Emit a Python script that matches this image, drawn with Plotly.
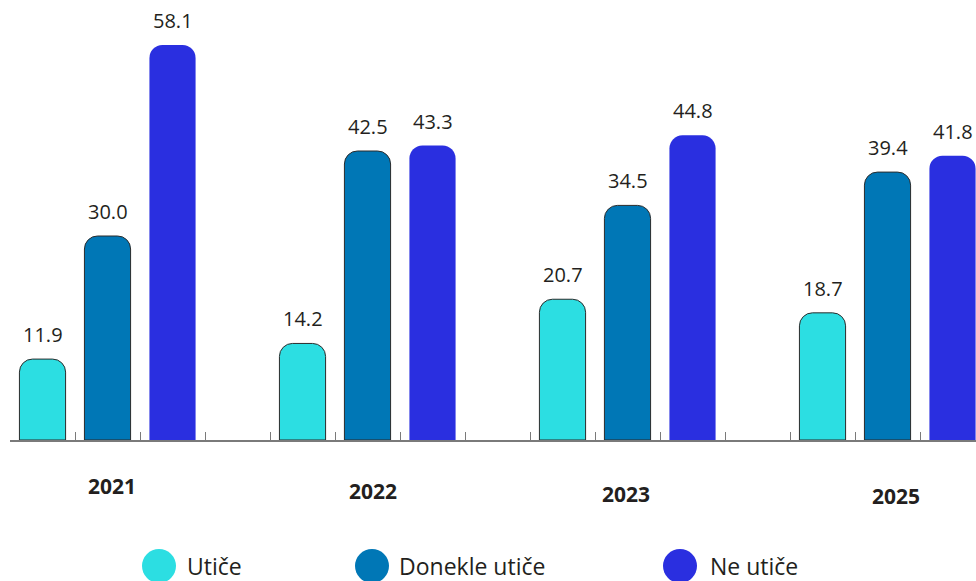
import plotly.graph_objects as go

YEARS = ["2021", "2022", "2023", "2025"]
SERIES = ["Utiče", "Donekle utiče", "Ne utiče"]
UTICE = [11.9, 14.2, 20.7, 18.7]
DONEKLE = [30.0, 42.5, 34.5, 39.4]
NE_UTICE = [58.1, 43.3, 44.8, 41.8]

COLORS = ["#2CDEE2", "#0077B6", "#2A2FE0"]
OUTLINES = [1, 1, 0]
FONT = "Open Sans"
TEXT_COLOR = "#231F20"

W, H = 976, 581
PLOT_L, PLOT_R, PLOT_T, PLOT_B = 10, 976, 5, 440
SLOT = 65  # px per category slot
PX_PER_UNIT = 6.8


def px_x(px):
    return (px - PLOT_L) / (PLOT_R - PLOT_L)


def px_y(py):
    return (PLOT_B - py) / (PLOT_B - PLOT_T)


fig = go.Figure()

for j, (name, vals) in enumerate(zip(SERIES, [UTICE, DONEKLE, NE_UTICE])):
    xs = [4 * g + j for g in range(len(YEARS))]
    fig.add_trace(
        go.Bar(
            x=xs,
            y=vals,
            width=0.71,
            name=name,
            marker=dict(
                color=COLORS[j],
                line=dict(color="#2b2b2b", width=OUTLINES[j]),
                cornerradius=13,
            ),
            showlegend=False,
        )
    )
    for x, v in zip(xs, vals):
        fig.add_annotation(
            x=x,
            y=v,
            text=f"{v:.1f}",
            showarrow=False,
            yanchor="bottom",
            yshift=9,
            font=dict(family=FONT, size=20, color=TEXT_COLOR),
        )

# year labels under each group (slightly staggered as in the source)
year_shift = [4.5, 5.5, -1.5, 8.5]
year_py = [486, 491, 494, 496]
for g, yr in enumerate(YEARS):
    fig.add_annotation(
        x=4 * g + 1,
        y=px_y(year_py[g]),
        yref="paper",
        text=f"<b>{yr}</b>",
        showarrow=False,
        xshift=year_shift[g],
        yanchor="middle",
        font=dict(family=FONT, size=21, color=TEXT_COLOR),
    )

# custom legend: big circles + labels
legend_cx = [159, 372, 680]
legend_tx = [185, 397, 708]
legend_cy = 566
for j, name in enumerate(SERIES):
    fig.add_shape(
        type="circle",
        xref="paper",
        yref="paper",
        xsizemode="pixel",
        ysizemode="pixel",
        xanchor=px_x(legend_cx[j]),
        yanchor=px_y(legend_cy),
        x0=-17,
        x1=17,
        y0=-17,
        y1=17,
        fillcolor=COLORS[j],
        line=dict(width=0),
    )
    fig.add_annotation(
        x=px_x(legend_tx[j]),
        y=px_y(legend_cy),
        xref="paper",
        yref="paper",
        text=name,
        showarrow=False,
        xanchor="left",
        yanchor="middle",
        font=dict(family=FONT, size=23, color=TEXT_COLOR),
    )

n_ticks = 4 * len(YEARS) - 1
fig.update_xaxes(
    range=[-0.5, -0.5 + (PLOT_R - PLOT_L) / SLOT],
    tickvals=[k - 0.5 for k in range(n_ticks)],
    showticklabels=False,
    ticks="inside",
    ticklen=8,
    tickwidth=1.2,
    tickcolor="#7a7a7a",
    showline=True,
    linecolor="#7a7a7a",
    linewidth=1.5,
    showgrid=False,
    zeroline=False,
)
fig.update_yaxes(
    range=[0, (PLOT_B - PLOT_T) / PX_PER_UNIT],
    visible=False,
    showgrid=False,
    zeroline=False,
)
fig.update_layout(
    width=W,
    height=H,
    barmode="overlay",
    plot_bgcolor="white",
    paper_bgcolor="white",
    margin=dict(l=PLOT_L, r=W - PLOT_R, t=PLOT_T, b=H - PLOT_B),
    showlegend=False,
    font=dict(family=FONT, color=TEXT_COLOR),
)

# drop the browser's default body margin so the figure sits at the page origin
fig.write_html(
    "out.html",
    config={"displayModeBar": False},
    post_script="document.body.style.margin='0';",
)
